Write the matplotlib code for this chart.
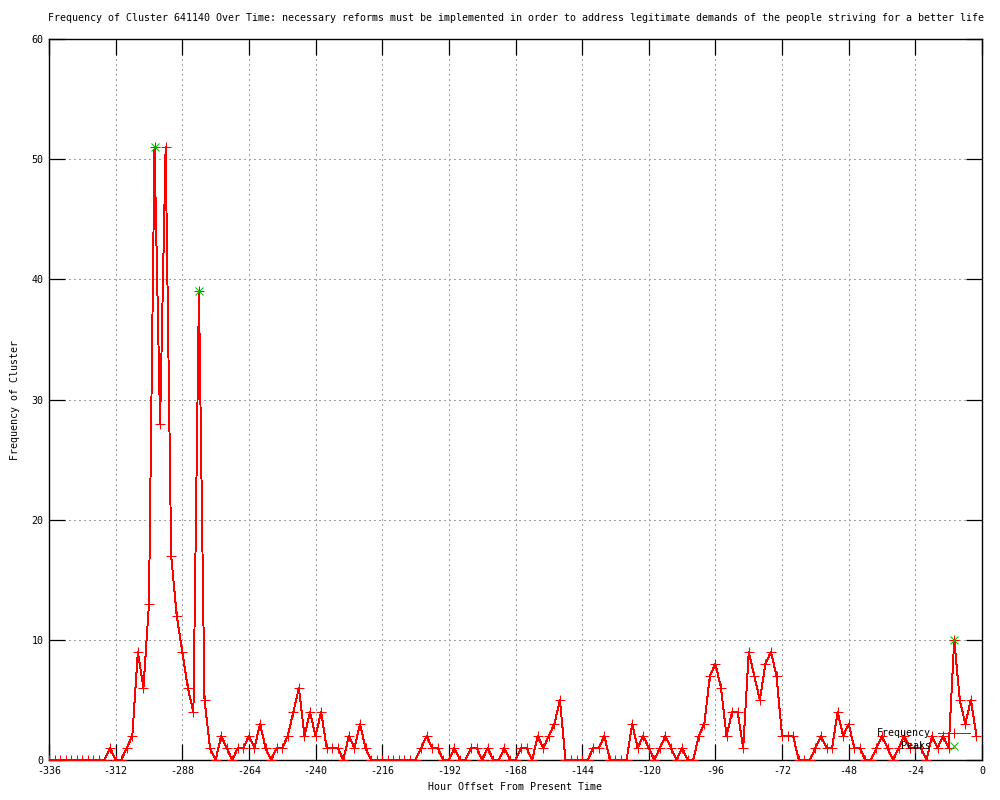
import matplotlib
matplotlib.use("Agg")
import matplotlib.pyplot as plt
import numpy as np

hours = list(range(-336, 0, 2))
frequency = [
    0, 0, 0, 0, 0, 0, 0, 0, 0, 0, 0,      # -336 .. -316
    1, 0, 0, 1, 2, 9, 6, 13, 51, 28,      # -314 .. -296
    51, 17, 12, 9, 6, 4, 39, 5, 1, 0,     # -294 .. -276
    2, 1, 0, 1, 1, 2, 1, 3, 1, 0,         # -274 .. -256
    1, 1, 2, 4, 6, 2, 4, 2, 4, 1,         # -254 .. -236
    1, 1, 0, 2, 1, 3, 1, 0, 0, 0,         # -234 .. -216
    0, 0, 0, 0, 0, 0, 1, 2, 1, 1,         # -214 .. -196
    0, 0, 1, 0, 0, 1, 1, 0, 1, 0,         # -194 .. -176
    0, 1, 0, 0, 1, 1, 0, 2, 1, 2,         # -174 .. -156
    3, 5, 0, 0, 0, 0, 0, 1, 1, 2,         # -154 .. -136
    0, 0, 0, 0, 3, 1, 2, 1, 0, 1,         # -134 .. -116
    2, 1, 0, 1, 0, 0, 2, 3, 7, 8,         # -114 .. -96
    6, 2, 4, 4, 1, 9, 7, 5, 8, 9,         # -94 .. -76
    7, 2, 2, 2, 0, 0, 0, 1, 2, 1,         # -74 .. -56
    1, 4, 2, 3, 1, 1, 0, 0, 1, 2,         # -54 .. -36
    1, 0, 1, 2, 1, 1, 1, 0, 2, 1,         # -34 .. -16
    2, 1, 10, 5, 3, 5, 2,                 # -14 .. -2
]
peak_hours = [-298, -282, -10]
peak_values = [51, 39, 10]

x_ticks = list(range(-336, 1, 24))
y_ticks = list(range(0, 61, 10))

plt.rcParams['font.family'] = ['DejaVu Sans Mono']
plt.rcParams['lines.antialiased'] = False
FS = 7.2

fig = plt.figure(figsize=(10, 8), dpi=100)
ax = fig.add_axes([0.049, 0.05, 0.933, 0.901])

ax.plot(hours, frequency, color='#ff0000', linewidth=0.7, marker='+',
        markersize=6.5, markeredgewidth=0.75, label='Frequency', zorder=3)
ax.plot(peak_hours, peak_values, linestyle='none', color='#00c000', marker='x',
        markersize=5.5, markeredgewidth=0.75, label='Peaks', zorder=4)

ax.set_xlim(-336, 0)
ax.set_ylim(0, 60)
ax.set_xticks(x_ticks)
ax.set_yticks(y_ticks)
ax.set_xticklabels([f"{t:d}" for t in x_ticks], fontsize=FS)
ax.set_yticklabels([str(t) for t in y_ticks], fontsize=FS)
ax.tick_params(direction='in', length=11.5, width=0.9, top=True, right=True,
               pad=4, colors='black')
ax.grid(True, color='#a0a0a0', linestyle=(0, (1.5, 3)), linewidth=0.75)
for s in ax.spines.values():
    s.set_linewidth(1.0)
    s.set_color('black')

ax.set_title("Frequency of Cluster 641140 Over Time: necessary reforms must be implemented in order to address legitimate demands of the people striving for a better life",
             fontsize=FS, pad=13)
ax.set_xlabel("Hour Offset From Present Time", fontsize=FS, labelpad=5)
ax.set_ylabel("Frequency of Cluster", fontsize=FS, labelpad=8)

leg = ax.legend(loc='lower right', bbox_to_anchor=(0.987, 0.012), frameon=False,
                markerfirst=False, fontsize=FS, handlelength=3.2,
                handletextpad=0.7, labelspacing=0.3, borderaxespad=0.0,
                borderpad=0.0)

fig.savefig("out.png", dpi=100)
